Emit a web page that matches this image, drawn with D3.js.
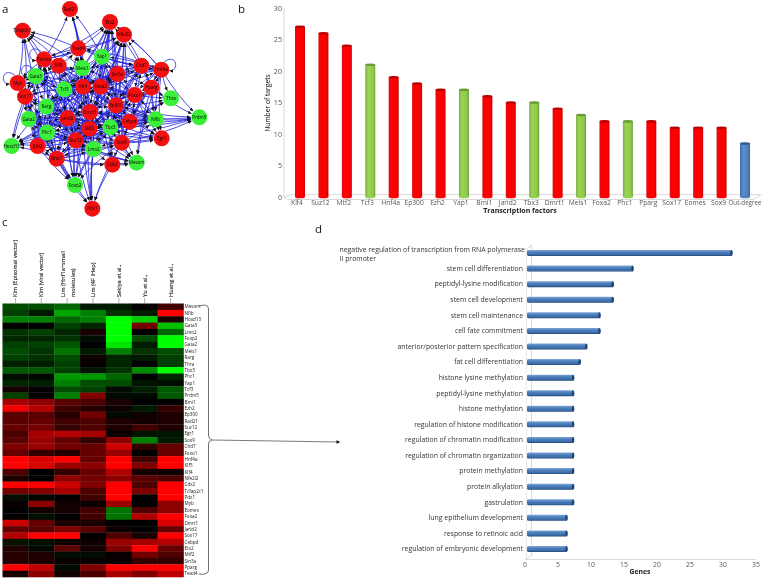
<!DOCTYPE html>
<html><head><meta charset="utf-8">
<script src="https://cdn.jsdelivr.net/npm/d3@7"></script>
<style>html,body{margin:0;padding:0;background:#fff}svg{display:block;filter:blur(.35px)}text{font-family:"Open Sans",sans-serif}</style>
</head><body><svg id="c" width="763" height="578"></svg>
<script>
// ---------- panel a: network ----------
const nodeNames = ["Rad21","Ets2","Nfe2l2","Tcfap2c1","Tead4","Yap1","Eomes","Klf5","Meis1","Chd7","Hnf4a","Sin3a","Gata3","Myb","Klf4","Foxa2","Pparg","Tcf3","Sox17","Foxo1","Thra","Rarg","Ep300","Dmrt1","Jarid2","Gata2","Cebpd","Nfib","Prdm5","Phc1","Mtf2","Tbx3","Egr1","Sox9","Suz12","Ezh2","Hoxd13","Lmo2","Bmi1","Mesom","Cdx2","Foxp2","Pdx1"];
const nodeLayoutX = [210,330,372,68,235,306,132,176,247,424,484,352,107,53,249,302,454,193,75,404,513,139,348,270,202,86,389,467,598,141,268,331,485,365,227,113,35,281,170,410,337,225,277];
const nodeLayoutY = [27,66,104,92,145,170,178,197,204,197,209,222,228,249,260,260,263,268,290,285,295,320,316,336,355,357,365,358,352,398,386,382,415,428,421,438,438,447,476,488,494,555,626];
const greenNodes = ["Yap1","Meis1","Gata3","Tcf3","Thra","Rarg","Gata2","Nfib","Prdm5","Phc1","Tbx3","Hoxd13","Lmo2","Mesom","Foxp2"];
const hubSources = ["Klf4","Suz12","Mtf2","Tcf3","Hnf4a","Ep300","Ezh2","Yap1","Bmi1","Jarid2","Tbx3","Dmrt1","Meis1","Foxa2","Phc1","Pparg","Sox17","Eomes","Sox9","Tead4","Rarg","Gata2","Foxo1","Cebpd","Nfib","Sin3a","Klf5","Chd7","Lmo2","Gata3"];
const hubTargets = [
"Rad21 Ets2 Nfe2l2 Tcfap2c1 Tead4 Yap1 Eomes Sin3a Gata3 Foxa2 Tcf3 Sox17 Foxo1 Rarg Ep300 Dmrt1 Jarid2 Gata2 Cebpd Nfib Phc1 Mtf2 Tbx3 Suz12 Ezh2 Lmo2 Bmi1",
"Ets2 Nfe2l2 Tcfap2c1 Eomes Gata3 Myb Foxa2 Pparg Tcf3 Sox17 Thra Rarg Dmrt1 Gata2 Cebpd Nfib Prdm5 Phc1 Tbx3 Egr1 Sox9 Hoxd13 Lmo2 Mesom Foxp2 Pdx1",
"Ets2 Nfe2l2 Tead4 Yap1 Klf5 Meis1 Chd7 Gata3 Klf4 Foxo1 Thra Rarg Ep300 Jarid2 Gata2 Cebpd Nfib Phc1 Egr1 Ezh2 Hoxd13 Bmi1 Mesom Foxp2",
"Ets2 Tead4 Yap1 Eomes Klf5 Gata3 Myb Foxa2 Sin3a Sox17 Rarg Dmrt1 Jarid2 Gata2 Phc1 Mtf2 Suz12 Ezh2 Hoxd13 Foxp2 Nfe2l2",
"Nfe2l2 Ets2 Chd7 Pparg Thra Prdm5 Nfib Foxo1 Sin3a Yap1 Ep300 Foxa2 Cebpd Egr1 Sox9 Mesom Tcf3 Meis1 Tead4",
"Ets2 Nfe2l2 Yap1 Chd7 Pparg Foxa2 Klf4 Thra Nfib Prdm5 Egr1 Sox9 Mesom Cdx2 Mtf2 Lmo2 Bmi1 Suz12",
"Gata2 Hoxd13 Sox17 Gata3 Myb Rarg Phc1 Tcf3 Jarid2 Mtf2 Lmo2 Foxp2 Bmi1 Meis1 Eomes Tcfap2c1 Suz12",
"Ets2 Nfe2l2 Rad21 Tead4 Chd7 Sin3a Klf4 Foxa2 Pparg Foxo1 Ep300 Dmrt1 Cebpd Nfib Tbx3 Tcf3 Hnf4a",
"Foxp2 Pdx1 Hoxd13 Ezh2 Phc1 Gata2 Rarg Jarid2 Suz12 Mtf2 Lmo2 Mesom Cdx2 Sox9 Tbx3 Dmrt1",
"Ets2 Gata3 Sox17 Gata2 Hoxd13 Ezh2 Phc1 Bmi1 Foxp2 Lmo2 Sox9 Tbx3 Cebpd Tead4 Nfib",
"Ets2 Nfe2l2 Nfib Prdm5 Egr1 Mesom Sox9 Cdx2 Lmo2 Foxp2 Ep300 Foxo1 Suz12 Jarid2 Phc1",
"Ets2 Rad21 Nfe2l2 Eomes Gata3 Klf5 Gata2 Hoxd13 Prdm5 Nfib Pdx1 Foxp2 Mesom Egr1",
"Ets2 Nfe2l2 Rad21 Tcfap2c1 Tead4 Gata3 Myb Sox17 Rarg Foxp2 Ep300 Pdx1 Klf4",
"Ets2 Nfe2l2 Chd7 Hnf4a Thra Foxo1 Nfib Egr1 Pdx1 Cdx2 Sin3a Eomes",
"Hoxd13 Ezh2 Gata2 Sox17 Bmi1 Foxp2 Pdx1 Lmo2 Suz12 Jarid2 Eomes Mesom",
"Nfe2l2 Ets2 Chd7 Thra Prdm5 Egr1 Nfib Mesom Sox9 Foxo1 Hnf4a Cebpd",
"Tcfap2c1 Myb Gata3 Eomes Hoxd13 Ezh2 Gata2 Phc1 Rarg Bmi1 Foxp2",
"Tcfap2c1 Ets2 Gata3 Myb Sox17 Klf5 Tead4 Gata2 Rad21 Hoxd13 Nfe2l2",
"Nfib Egr1 Mesom Cdx2 Foxp2 Lmo2 Prdm5 Ets2 Nfe2l2 Chd7 Pdx1",
"Rad21 Ets2 Tcfap2c1 Nfe2l2 Eomes Chd7 Gata3",
"Klf4 Foxa2 Dmrt1 Jarid2 Ep300 Mtf2 Tbx3 Cebpd",
"Jarid2 Dmrt1 Mtf2 Tcf3 Klf4 Suz12 Tbx3 Lmo2",
"Klf4 Foxa2 Dmrt1 Mtf2 Tbx3 Jarid2 Egr1 Meis1",
"Ep300 Dmrt1 Mtf2 Foxa2 Klf4 Suz12 Prdm5 Foxo1",
"Tbx3 Mtf2 Dmrt1 Ep300 Foxo1 Prdm5 Sin3a",
"Klf4 Dmrt1 Foxa2 Tcf3 Jarid2 Ep300 Mtf2",
"Meis1 Tcf3 Klf4 Dmrt1 Jarid2 Rarg Foxa2 Tead4",
"Foxa2 Sin3a Ep300 Foxo1 Dmrt1 Klf4 Tbx3",
"Dmrt1 Tbx3 Cdx2 Mesom Bmi1 Pdx1 Foxp2 Sox9",
"Rarg Tcf3 Eomes Klf4 Jarid2 Dmrt1 Sox17"];
const selfLoops = ["Hnf4a","Eomes","Myb","Gata3"];
const extraEdges = [["Myb","Tcfap2c1"],["Cdx2","Pdx1"],["Cdx2","Mesom"],["Lmo2","Pdx1"]];

// ---------- panel b ----------
const tfNames = ["Klf4","Suz12","Mtf2","Tcf3","Hnf4a","Ep300","Ezh2","Yap1","Bmi1","Jarid2","Tbx3","Dmrt1","Meis1","Foxa2","Phc1","Pparg","Sox17","Eomes","Sox9","Out-degree"];
const tfTargets = [27,26,24,21,19,18,17,17,16,15,15,14,13,12,12,12,11,11,11,8.5];
const tfGroup = ["r","r","r","g","r","r","r","g","r","r","g","r","g","r","g","r","r","r","r","b"];
const targetTicks = [0,5,10,15,20,25,30];

// ---------- panel c ----------
const studyLabels = [["Kim (Episomal vector)"],["Kim (viral vector)"],["Lim (Hnf1a+small","molecules)"],["Lim (4F iHep)"],["Sekiya et al.,"],["Yu et al.,"],["Huang et al.,"]];
const geneRows = ["Mesom","Nfib","Hoxd13","Gata3","Lmo2","Foxp2","Gata2","Meis1","Rarg","Thra","Tbx3","Phc1","Yap1","Tcf3","Prdm5","Bmi1","Ezh2","Ep300","Rad21","Suz12","Egr1","Sox9","Chd7","Foxo1","Hnf4a","Klf5","Klf4","Nfe2l2","Cdx2","Tcfap2c1","Pdx1","Myb","Eomes","Foxa2","Dmrt1","Jarid2","Sox17","Cebpd","Ets2","Mtf2","Sin3a","Pparg","Tead4"];
const expression = [
[-.3,-.3,-.4,-.1,-.1,0,.25],[-.25,-.1,-.65,-.5,-.2,-.1,1],[-.5,-.5,-.4,-.5,-1,-.8,.1],[0,0,-.25,-.15,-1,.45,-.75],
[-.2,-.25,-.15,.1,-1,0,-.4],[-.15,-.15,-.2,-.05,-1,-.3,-1],[-.25,-.25,-.35,0,-.9,-.1,-1],[-.3,-.2,-.45,-.1,-.5,-.2,-.3],
[-.25,-.2,-.3,.05,-.15,-.1,-.25],[-.12,-.12,-.25,.03,-.15,0,-.25],[-.35,-.35,-.25,-.08,-.2,-.55,-1],[-.05,-.03,-.6,-.6,-.4,0,-.15],
[-.15,-.12,-.5,-.3,-.3,-.08,-.05],[.08,.02,-.3,-.25,-.05,-.12,-.35],[-.25,0,-.5,.5,-.04,-.04,-.35],[.65,.55,.35,.3,.1,0,0],
[.95,.7,.25,.15,.05,-.1,.2],[.35,.35,.15,.45,-.03,.05,.12],[.35,.4,.25,.3,.12,.08,.12],[.4,.45,.2,.3,.12,.25,.12],
[.3,.65,.7,.65,.03,-.08,-.08],[.35,.6,.4,.2,.55,-.5,-.1],[.5,.6,.45,.4,.8,.2,.4],[.4,.2,.15,.4,.6,0,.4],
[1,.85,1,.4,1,.25,1],[1,.85,.6,.55,1,.5,1],[.3,0,.2,.4,.7,.08,.06],[.1,0,.55,.45,.55,.35,.3],
[1,1,.8,.5,1,.3,1],[.45,.5,.65,.3,1,.5,1],[-.05,-.02,.02,.25,1,0,1],[.03,.55,.08,.05,.6,0,.55],
[0,.08,.08,.25,-.45,.3,.55],[0,-.06,0,.25,-.45,.7,1],[.8,.4,.1,.1,0,0,.85],[.4,.35,.5,.35,.06,0,.4],
[.7,1,1,0,.3,.1,1],[-.08,-.06,.05,.05,.6,.65,.7],[.12,-.03,.35,.08,.5,1,.4],[.15,.12,-.05,-.05,.03,.45,.3],
[.15,.12,.03,.03,.03,.2,.2],[1,.75,-.04,.5,1,1,1],[.1,.55,.08,.3,.65,.5,.75]];

// ---------- panel d ----------
const goTerms = ["negative regulation of transcription from RNA polymerase II promoter","stem cell differentiation","peptidyl-lysine modification","stem cell development","stem cell maintenance","cell fate commitment","anterior/posterior pattern specification","fat cell differentiation","histone lysine methylation","peptidyl-lysine methylation","histone methylation","regulation of histone modification","regulation of chromatin modification","regulation of chromatin organization","protein methylation","protein alkylation","gastrulation","lung epithelium development","response to retinoic acid","regulation of embryonic development"];
const goGenes = [31,16,13,13,11,11,9,8,7,7,7,7,7,7,7,7,7,6,6,6];
const geneTicks = [0,5,10,15,20,25,30,35];

const svg = d3.select("#c");
const defs = svg.append("defs");
function grad(id,stops,horizontal){
  const g=defs.append("linearGradient").attr("id",id).attr("x1",0).attr("y1",0).attr("x2",horizontal?1:0).attr("y2",horizontal?0:1);
  stops.forEach(([o,c])=>g.append("stop").attr("offset",o).attr("stop-color",c));
}
grad("gr",[[0,"#d81010"],[.25,"#ff0000"],[.8,"#fb0000"],[1,"#c80000"]],true);
grad("gg",[[0,"#7fae45"],[.3,"#9ad654"],[.8,"#8cc84b"],[1,"#6f9b38"]],true);
grad("gb",[[0,"#3f6ea8"],[.3,"#5b8dcb"],[.8,"#4f81bd"],[1,"#345f96"]],true);
grad("gh",[[0,"#7fa6d8"],[.35,"#4f81bd"],[.8,"#3a6aa6"],[1,"#1f4674"]],false);

// panel letters
[["a",2,13],["b",238,13],["c",2,226],["d",315,233]].forEach(([t,x,y])=>
  svg.append("text").attr("x",x).attr("y",y).attr("font-size",11.5).attr("fill","#111").text(t));

// ---- a
const gA = svg.append("g");
const lx = d3.scaleLinear().domain([0,660]).range([0,220]);
const ly = d3.scaleLinear().domain([0,660]).range([0,220]);
const pos = new Map(nodeNames.map((n,i)=>[n,[lx(nodeLayoutX[i]),ly(nodeLayoutY[i])]]));
const R = 8;
defs.append("marker").attr("id","ah").attr("viewBox","0 0 10 10").attr("refX",10).attr("refY",5)
  .attr("markerWidth",3.8).attr("markerHeight",3.8).attr("markerUnits","userSpaceOnUse").attr("orient","auto")
  .append("path").attr("d","M0,0.5L10,5L0,9.5Z").attr("fill","#111");
const edges=[];
hubSources.forEach((s,i)=>hubTargets[i].split(" ").forEach(t=>edges.push([s,t])));
extraEdges.forEach(e=>edges.push(e));
function edgePath([s,t]){
  const [x1,y1]=pos.get(s),[x2,y2]=pos.get(t);
  const dx=x2-x1,dy=y2-y1,L=Math.hypot(dx,dy);
  const b=L*0.06;
  const cx=(x1+x2)/2-dy/L*b, cy=(y1+y2)/2+dx/L*b;
  const a=Math.atan2(y2-cy,x2-cx);
  return `M${x1},${y1}Q${cx},${cy} ${x2-Math.cos(a)*(R+.5)},${y2-Math.sin(a)*(R+.5)}`;
}
gA.append("g").selectAll("path").data(edges).join("path").attr("d",edgePath)
  .attr("fill","none").attr("stroke","#2424d8").attr("stroke-width",.8).attr("marker-end","url(#ah)");
gA.append("g").selectAll("path").data(selfLoops).join("path")
  .attr("d",n=>{const [x,y]=pos.get(n);const s=x<100?-1:1;
     return `M${x+s*3},${y-R}C${x+s*16},${y-R-9} ${x+s*18},${y+2} ${x+s*R},${y+1}`;})
  .attr("fill","none").attr("stroke","#2424d8").attr("stroke-width",.8).attr("marker-end","url(#ah)");
const nodeG = gA.append("g").selectAll("g").data(nodeNames).join("g").attr("transform",n=>`translate(${pos.get(n)})`);
nodeG.append("circle").attr("r",R).attr("fill",n=>greenNodes.includes(n)?"#38f038":"#f41010");
nodeG.append("text").attr("text-anchor","middle").attr("dy","0.35em").attr("font-size",4.5).attr("fill","#100").text(n=>n);

// ---- b
const gB = svg.append("g");
const bx = d3.scalePoint().domain(tfNames).range([300,745]);
const by = d3.scaleLinear().domain([0,30]).range([197,8]);
const floor = "M284,197L292,194.6H761L753,199.5H288Z";
gB.append("path").attr("d",floor).attr("fill","none").attr("stroke","#cfcfcf").attr("stroke-width",.8);
gB.append("line").attr("x1",284).attr("x2",284).attr("y1",by(30)).attr("y2",by(0)).attr("stroke","#cfcfcf").attr("stroke-width",.8);
targetTicks.forEach(t=>gB.append("text").attr("x",282).attr("y",by(t)+2.5).attr("text-anchor","end").attr("font-size",7.2).attr("fill","#555").text(t));
const barW=10;
const bc = {r:"#ff0000",g:"#92d050",b:"#4f81bd"}, bt={r:"#b80000",g:"#6c9a38",b:"#2f5a8e"};
const bars = gB.append("g").selectAll("g").data(tfNames).join("g");
bars.append("rect").attr("x",d=>bx(d)-barW/2).attr("width",barW)
  .attr("y",(d,i)=>by(tfTargets[i])).attr("height",(d,i)=>by(0)-by(tfTargets[i]))
  .attr("fill",(d,i)=>`url(#g${tfGroup[i]})`);
bars.append("ellipse").attr("cx",d=>bx(d)).attr("cy",by(0)).attr("rx",barW/2).attr("ry",1.3).attr("fill",(d,i)=>bc[tfGroup[i]]);
bars.append("ellipse").attr("cx",d=>bx(d)).attr("cy",(d,i)=>by(tfTargets[i])).attr("rx",barW/2).attr("ry",1.3).attr("fill",(d,i)=>bt[tfGroup[i]]);
bars.append("text").attr("x",d=>d==="Out-degree"?745:bx(d)-3).attr("y",204.5).attr("text-anchor","middle").attr("font-size",d=>d==="Out-degree"?6.2:6.7).attr("fill","#555").text(d=>d);
gB.append("text").attr("transform","translate(270,103) rotate(-90)").attr("text-anchor","middle").attr("font-size",6.7).attr("fill","#111").attr("font-family","Liberation Sans").text("Number of targets");
gB.append("text").attr("x",520).attr("y",212.5).attr("text-anchor","middle").attr("font-size",7).attr("font-weight",700).attr("fill","#222").text("Transcription factors");

// ---- c
const gC = svg.append("g");
const hx = d3.scaleBand().domain(d3.range(7)).range([2.5,183.5]);
const hy = d3.scaleBand().domain(geneRows).range([303.5,577]);
const hc = d3.scaleLinear().domain([-1,0,1]).range(["#00ff00","#000000","#ff0000"]);
geneRows.forEach((g,r)=>{
  gC.append("g").selectAll("rect").data(expression[r]).join("rect")
   .attr("x",(d,i)=>hx(i)).attr("y",hy(g)).attr("width",hx.bandwidth()+.3).attr("height",hy.bandwidth()+.3).attr("fill",d=>hc(d));
});
gC.append("g").selectAll("text").data(geneRows).join("text").attr("x",184.5).attr("y",d=>hy(d)+hy.bandwidth()/2+1.6)
  .attr("font-size",4.6).attr("fill","#222").text(d=>d);
studyLabels.forEach((lines,i)=>{
  const cx=hx(i)+hx.bandwidth()/2;
  gC.append("line").attr("x1",cx).attr("x2",cx).attr("y1",298).attr("y2",303.5).attr("stroke","#777").attr("stroke-width",.6);
  lines.forEach((t,j)=>{
    const off = lines.length>1 ? (j===0?-2:8) : 2;
    gC.append("text").attr("transform",`translate(${cx+off},297) rotate(-90)`).attr("font-size",5.7).attr("font-family","Liberation Sans").attr("fill","#111").attr("stroke","#111").attr("stroke-width",.12).text(t);
  });
});
gC.append("path").attr("d","M199,306Q205,304.5 206,305.5Q208.5,306 208.5,309V435Q208.5,439 212,440Q208.5,441 208.5,444V570Q208.5,573 206,573.5Q203,575 199,574")
  .attr("fill","none").attr("stroke","#333").attr("stroke-width",.7);
gC.append("line").attr("x1",212).attr("x2",338).attr("y1",440).attr("y2",442).attr("stroke","#222").attr("stroke-width",.6);
gC.append("path").attr("d","M340.5,442L336.5,440.2V443.8Z").attr("fill","#111");

// ---- d
const gD = svg.append("g");
const dx = d3.scaleLinear().domain([0,35]).range([525,756]);
const dy = d3.scalePoint().domain(goTerms).range([253,549]);
const wall="M526.5,249L531.5,245V555.5L525,559.5H756";
gD.append("path").attr("d",wall).attr("fill","none").attr("stroke","#cfcfcf").attr("stroke-width",.8);
gD.append("line").attr("x1",526.5).attr("x2",526.5).attr("y1",249).attr("y2",559).attr("stroke","#dcdcdc").attr("stroke-width",.6);
geneTicks.forEach(t=>gD.append("text").attr("x",dx(t)).attr("y",566.5).attr("text-anchor","middle").attr("font-size",6.8).attr("fill","#555").text(t));
gD.append("text").attr("x",640).attr("y",573.5).attr("text-anchor","middle").attr("font-size",6.8).attr("font-weight",700).attr("fill","#222").text("Genes");
const hbH=6;
const hb=gD.append("g").selectAll("g").data(goTerms).join("g");
hb.append("rect").attr("x",527).attr("width",(d,i)=>dx(goGenes[i])-524.5).attr("y",d=>dy(d)-hbH/2).attr("height",hbH).attr("rx",1.4).attr("fill","url(#gh)");
hb.append("ellipse").attr("cx",(d,i)=>dx(goGenes[i])+1.9).attr("cy",d=>dy(d)).attr("rx",1.3).attr("ry",hbH/2).attr("fill","#1f4674");
hb.filter((d,i)=>i>0).append("text").attr("x",523).attr("y",d=>dy(d)+2.3).attr("text-anchor","end").attr("font-size",6.9).attr("fill","#333").text(d=>d);
const wrapped=goTerms[0].split(" ");
[[wrapped.slice(0,7).join(" "),252],[wrapped.slice(7).join(" "),260.5]].forEach(([t,y])=>
  gD.append("text").attr("x",339.5).attr("y",y).attr("font-size",6.9).attr("fill","#333").text(t));
</script></body></html>
